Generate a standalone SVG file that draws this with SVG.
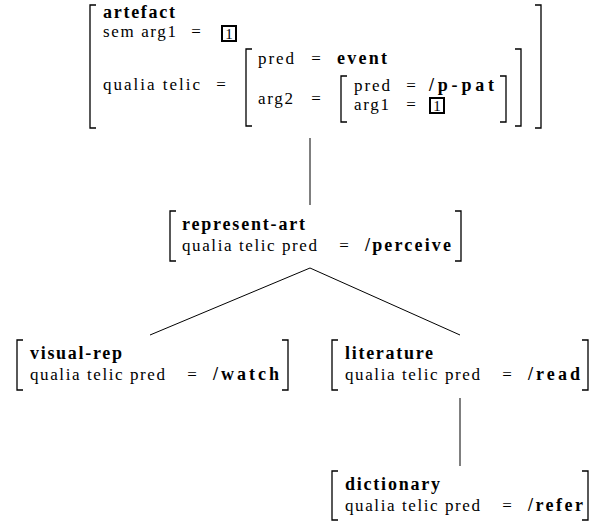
<svg xmlns="http://www.w3.org/2000/svg" width="605" height="522" viewBox="0 0 605 522" font-family="'Liberation Serif','Times New Roman','DejaVu Serif',serif">
<style>
.t{font-family:"Liberation Serif","Times New Roman","DejaVu Serif",serif;font-size:17px;fill:#000}
.b{font-weight:bold;font-size:18px}
.e{text-anchor:middle}
.n{font-size:15px;text-anchor:middle}
.br{fill:none;stroke:#000;stroke-width:1.3}
.bx{fill:none;stroke:#000;stroke-width:2}
.cn{fill:none;stroke:#000;stroke-width:1}
</style>
<rect width="605" height="522" fill="#fff"/>
<g id="connectors">
<path class="cn" d="M310,138 V205"/>
<path class="cn" d="M310,268 L150,335"/>
<path class="cn" d="M310,268 L460,335"/>
<path class="cn" d="M460,398 V466"/>
</g>
<g id="artefact">
<path class="br" d="M96,5 H90 V128 H96"/>
<path class="br" d="M535,5 H541 V128 H535"/>
<text class="t b" x="103" y="18" textLength="72" lengthAdjust="spacing">artefact</text>
<text class="t" x="103" y="37" textLength="73" lengthAdjust="spacing">sem arg1</text>
<text class="t e" x="196" y="37">=</text>
<rect class="bx" x="222" y="26" width="14" height="15"/>
<text class="t n" x="229" y="39">1</text>
<text class="t" x="103" y="90" textLength="97" lengthAdjust="spacing">qualia telic</text>
<text class="t e" x="221" y="90">=</text>
<path class="br" d="M252,49 H246 V126 H252"/>
<path class="br" d="M515,49 H521 V126 H515"/>
<text class="t" x="258" y="64" textLength="36" lengthAdjust="spacing">pred</text>
<text class="t e" x="316" y="64">=</text>
<text class="t b" x="337" y="64" textLength="50" lengthAdjust="spacing">event</text>
<text class="t" x="258" y="104" textLength="35" lengthAdjust="spacing">arg2</text>
<text class="t e" x="316" y="104">=</text>
<path class="br" d="M347,76 H341 V122 H347"/>
<path class="br" d="M500,76 H506 V122 H500"/>
<text class="t" x="354" y="91" textLength="36" lengthAdjust="spacing">pred</text>
<text class="t e" x="411" y="91">=</text>
<text class="t b" x="429" y="91" textLength="65" lengthAdjust="spacing">/p-pat</text>
<text class="t" x="354" y="110" textLength="35" lengthAdjust="spacing">arg1</text>
<text class="t e" x="411" y="110">=</text>
<rect class="bx" x="430" y="98" width="14" height="15"/>
<text class="t n" x="437" y="111">1</text>
</g>
<g id="represent-art">
<path class="br" d="M176,211 H170 V261 H176"/>
<path class="br" d="M455,211 H461 V261 H455"/>
<text class="t b" x="182" y="230" textLength="123" lengthAdjust="spacing">represent-art</text>
<text class="t" x="182" y="251" textLength="135" lengthAdjust="spacing">qualia telic pred</text>
<text class="t e" x="344" y="251">=</text>
<text class="t b" x="365" y="251" textLength="86" lengthAdjust="spacing">/perceive</text>
</g>
<g id="visual-rep">
<path class="br" d="M23,340 H17 V390 H23"/>
<path class="br" d="M282,340 H288 V390 H282"/>
<text class="t b" x="30" y="359" textLength="92" lengthAdjust="spacing">visual-rep</text>
<text class="t" x="30" y="380" textLength="135" lengthAdjust="spacing">qualia telic pred</text>
<text class="t e" x="192" y="380">=</text>
<text class="t b" x="213" y="380" textLength="66" lengthAdjust="spacing">/watch</text>
</g>
<g id="literature">
<path class="br" d="M338,340 H332 V390 H338"/>
<path class="br" d="M582,340 H588 V390 H582"/>
<text class="t b" x="345" y="359" textLength="88" lengthAdjust="spacing">literature</text>
<text class="t" x="345" y="380" textLength="135" lengthAdjust="spacing">qualia telic pred</text>
<text class="t e" x="507" y="380">=</text>
<text class="t b" x="528" y="380" textLength="52" lengthAdjust="spacing">/read</text>
</g>
<g id="dictionary">
<path class="br" d="M338,471 H332 V520 H338"/>
<path class="br" d="M582,471 H588 V520 H582"/>
<text class="t b" x="345" y="490" textLength="95" lengthAdjust="spacing">dictionary</text>
<text class="t" x="345" y="511" textLength="135" lengthAdjust="spacing">qualia telic pred</text>
<text class="t e" x="507" y="511">=</text>
<text class="t b" x="528" y="511" textLength="55" lengthAdjust="spacing">/refer</text>
</g>
</svg>
